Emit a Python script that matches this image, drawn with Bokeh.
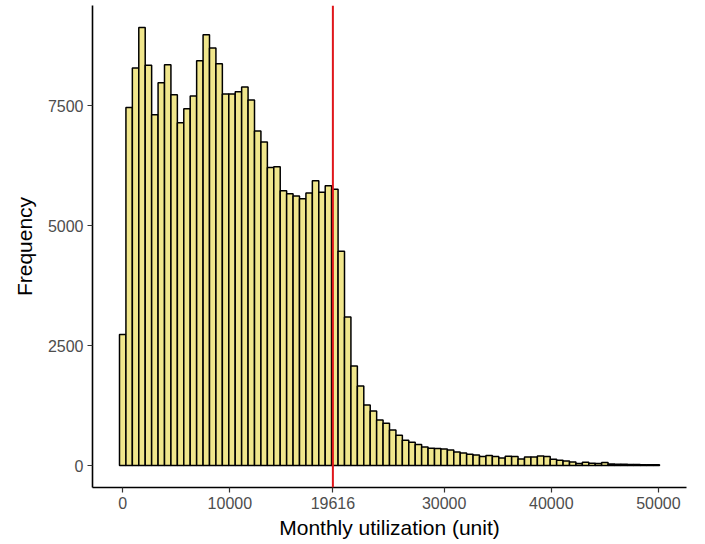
from bokeh.plotting import figure
from bokeh.models import Range1d, FixedTicker, Span, ColumnDataSource
from bokeh.embed import file_html
from bokeh.resources import INLINE

# ---- data ----
bin_start = -300
bin_width = 600
counts = [2730, 7464, 8284, 9131, 8340, 7312, 7979, 8354, 7729, 7146,
          7437, 7701, 8437, 8979, 8700, 8375, 7742, 7742, 7791, 7888,
          7617, 6971, 6742, 6214, 6229, 5729, 5666, 5617, 5562, 5680,
          5937, 5694, 5833, 5756, 4464, 3097, 2076, 1660, 1264, 1139,
          951, 882, 743, 632, 528, 486, 437, 389, 361, 354,
          347, 326, 285, 264, 236, 222, 187, 208, 187, 160,
          194, 187, 139, 180, 180, 201, 187, 132, 111, 97,
          76, 42, 69, 49, 42, 62, 35, 28, 28, 21,
          21, 20, 15, 15]
x_ticks = [0, 10000, 19616, 30000, 40000, 50000]
y_ticks = [0, 2500, 5000, 7500]
median_value = 19616
x_title = "Monthly utilization (unit)"
y_title = "Frequency"

left = [bin_start + i * bin_width for i in range(len(counts))]
right = [l + bin_width for l in left]
src = ColumnDataSource(dict(left=left, right=right, top=counts, bottom=[0] * len(counts)))

xmin, xmax = left[0], right[-1]
xpad = 0.05 * (xmax - xmin)
ymax = max(counts)
ypad = 0.05 * ymax

p = figure(width=705, height=544, output_backend="svg", toolbar_location=None,
           x_range=Range1d(xmin - xpad, xmax + xpad),
           y_range=Range1d(-ypad, ymax + ypad),
           min_border_left=92, min_border_right=19, min_border_top=5, min_border_bottom=57)
p.outline_line_color = None
p.xgrid.grid_line_color = None
p.ygrid.grid_line_color = None
p.background_fill_color = "white"
p.border_fill_color = "white"

p.quad(left="left", right="right", top="top", bottom="bottom", source=src,
       fill_color="#F0E68C", line_color="black", line_width=1.5)

p.add_layout(Span(location=median_value, dimension="height", line_color="#E0161B", line_width=2))

font = "Liberation Sans"
for ax in (p.xaxis[0], p.yaxis[0]):
    ax.axis_line_color = "black"
    ax.axis_line_width = 1.6
    ax.major_tick_line_color = "#333333"
    ax.major_tick_line_width = 1.2
    ax.major_tick_out = 5
    ax.major_tick_in = 0
    ax.minor_tick_line_color = None
    ax.major_label_text_font = font
    ax.major_label_text_font_size = "16px"
    ax.major_label_text_color = "#4D4D4D"
    ax.axis_label_text_font = font
    ax.axis_label_text_font_size = "21px"
    ax.axis_label_text_font_style = "normal"
    ax.axis_label_text_color = "black"

p.xaxis.ticker = FixedTicker(ticks=x_ticks)
p.yaxis.ticker = FixedTicker(ticks=y_ticks)
p.xaxis.major_label_overrides = {t: str(t) for t in x_ticks}
p.yaxis.major_label_overrides = {t: str(t) for t in y_ticks}
p.xaxis.axis_label = x_title
p.yaxis.axis_label = y_title
p.xaxis.major_label_standoff = 4
p.yaxis.major_label_standoff = 4
p.xaxis.axis_label_standoff = 4
p.yaxis.axis_label_standoff = 9

open("out.html", "w").write(file_html(p, INLINE))
